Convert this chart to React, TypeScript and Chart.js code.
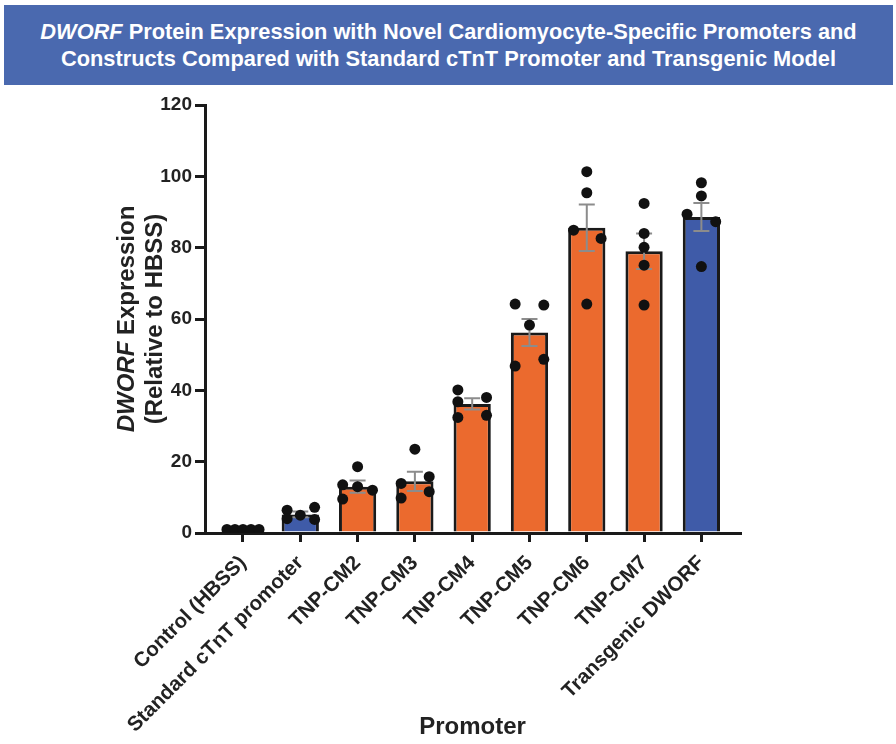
import React, { useEffect, useRef } from "react";
import { Chart, registerables } from "chart.js";

Chart.register(...registerables);

const categories = [
  "Control (HBSS)",
  "Standard cTnT promoter",
  "TNP-CM2",
  "TNP-CM3",
  "TNP-CM4",
  "TNP-CM5",
  "TNP-CM6",
  "TNP-CM7",
  "Transgenic DWORF",
];

const means = [1.0, 5.2, 13.0, 14.5, 36.2, 56.2, 85.6, 79.0, 88.6];
const sems = [0.05, 0.8, 1.7, 2.7, 1.6, 3.8, 6.5, 5.0, 3.9];

const pointValues = [
  [1.0, 1.0, 1.0, 1.0, 1.0],
  [6.4, 4.0, 5.0, 7.2, 3.8],
  [13.5, 9.5, 18.6, 13.0, 12.0],
  [13.9, 9.8, 23.5, 15.8, 11.6],
  [40.1, 36.8, 32.4, 38.0, 33.0],
  [64.2, 46.8, 58.3, 63.9, 48.7],
  [101.3, 95.4, 84.9, 82.6, 64.2],
  [92.4, 84.0, 80.1, 75.1, 63.9],
  [98.2, 94.5, 89.4, 87.3, 74.7],
];

// horizontal jitter of each dot within its bar (category units)
const pointJitter = [
  [-0.28, -0.14, 0, 0.14, 0.28],
  [-0.23, -0.23, 0, 0.25, 0.25],
  [-0.26, -0.26, 0, 0, 0.26],
  [-0.24, -0.24, 0, 0.25, 0.25],
  [-0.25, -0.25, -0.25, 0.25, 0.25],
  [-0.25, -0.25, 0, 0.25, 0.25],
  [0, 0, -0.23, 0.25, 0],
  [0, 0, 0, 0, 0],
  [0, 0, -0.25, 0.25, 0],
];

const barColors = [
  "#ffffff",
  "#3F5BA8",
  "#EB6A2E",
  "#EB6A2E",
  "#EB6A2E",
  "#EB6A2E",
  "#EB6A2E",
  "#EB6A2E",
  "#3F5BA8",
];

const yTicks = [0, 20, 40, 60, 80, 100, 120];

const FONT = '"Liberation Sans", Arial, Helvetica, sans-serif';

const errorBarPlugin = {
  id: "errorBars",
  afterDatasetDraw(chart: any, args: any) {
    if (args.index !== 0) return;
    const ctx = chart.ctx;
    const xs = chart.scales.x;
    const ys = chart.scales.y;
    ctx.save();
    ctx.strokeStyle = "#8c8c8c";
    ctx.lineWidth = 2;
    means.forEach((m, i) => {
      const x = xs.getPixelForValue(i);
      const yt = ys.getPixelForValue(m + sems[i]);
      const yb = ys.getPixelForValue(m - sems[i]);
      ctx.beginPath();
      ctx.moveTo(x, yt);
      ctx.lineTo(x, yb);
      ctx.moveTo(x - 8, yt);
      ctx.lineTo(x + 8, yt);
      ctx.moveTo(x - 8, yb);
      ctx.lineTo(x + 8, yb);
      ctx.stroke();
    });
    ctx.restore();
  },
};

const yTitlePlugin = {
  id: "yTitle",
  afterDraw(chart: any) {
    const ctx = chart.ctx;
    const ca = chart.chartArea;
    const cy = (ca.top + ca.bottom) / 2;
    const cx = 141;
    ctx.save();
    ctx.translate(cx, cy);
    ctx.rotate(-Math.PI / 2);
    ctx.fillStyle = "#222";
    ctx.textBaseline = "middle";
    ctx.textAlign = "left";
    const f1 = `italic bold 24px ${FONT}`;
    const f2 = `bold 24px ${FONT}`;
    ctx.font = f1;
    const w1 = ctx.measureText("DWORF").width;
    ctx.font = f2;
    const w2 = ctx.measureText(" Expression").width;
    const x0 = -(w1 + w2) / 2;
    ctx.font = f1;
    ctx.fillText("DWORF", x0, -14);
    ctx.font = f2;
    ctx.fillText(" Expression", x0 + w1, -14);
    ctx.textAlign = "center";
    ctx.fillText("(Relative to HBSS)", 0, 14);
    ctx.restore();
  },
};

export default function App() {
  const ref = useRef<HTMLCanvasElement | null>(null);

  useEffect(() => {
    document.body.style.margin = "0";
    const canvas = ref.current;
    if (!canvas) return;

    const barData = means.map((m, i) => ({ x: i, y: m }));
    const dotData: { x: number; y: number }[] = [];
    pointValues.forEach((vals, i) =>
      vals.forEach((v, j) => dotData.push({ x: i + pointJitter[i][j], y: v }))
    );

    const chart = new Chart(canvas, {
      type: "bar",
      data: {
        datasets: [
          {
            type: "bar",
            data: barData as any,
            backgroundColor: barColors,
            borderColor: "#1a1a1a",
            borderWidth: 3,
            barPercentage: 0.65,
            categoryPercentage: 1,
            order: 2,
          } as any,
          {
            type: "scatter",
            data: dotData as any,
            backgroundColor: "#111",
            borderWidth: 0,
            pointRadius: 5.5,
            order: 1,
          } as any,
        ],
      },
      options: {
        animation: false,
        responsive: false,
        devicePixelRatio: 1,
        layout: { padding: { top: 105, right: 156, bottom: 0, left: 0 } },
        plugins: {
          legend: { display: false },
          tooltip: { enabled: false },
        },
        scales: {
          x: {
            type: "linear",
            min: -0.663,
            max: 8.674,
            offset: false,
            afterFit: (scale: any) => {
              scale.height = 211;
            },
            afterBuildTicks: (scale: any) => {
              scale.ticks = categories.map((_, i) => ({ value: i }));
            },
            grid: {
              display: true,
              offset: false,
              drawOnChartArea: false,
              drawTicks: true,
              tickLength: 9,
              color: "#1a1a1a",
              lineWidth: 3,
            },
            border: { display: true, color: "#1a1a1a", width: 3 },
            ticks: {
              autoSkip: false,
              minRotation: 45,
              maxRotation: 45,
              padding: 9,
              color: "#222",
              font: { family: FONT, size: 20.5, weight: "bold" },
              callback: (v: any) => categories[v as number],
            },
            title: {
              display: true,
              text: "Promoter",
              color: "#222",
              font: { family: FONT, size: 24, weight: "bold" },
              padding: { top: 0, bottom: 2 },
            },
          },
          y: {
            min: 0,
            max: 120,
            afterFit: (scale: any) => {
              scale.width = 205;
            },
            afterBuildTicks: (scale: any) => {
              scale.ticks = yTicks.map((v) => ({ value: v }));
            },
            grid: {
              display: true,
              drawOnChartArea: false,
              drawTicks: true,
              tickLength: 10,
              color: "#1a1a1a",
              lineWidth: 3,
            },
            border: { display: true, color: "#1a1a1a", width: 3 },
            ticks: {
              padding: 3,
              color: "#222",
              font: { family: FONT, size: 19, weight: "bold" },
            },
          },
        },
      },
      plugins: [errorBarPlugin, yTitlePlugin],
    } as any);

    return () => chart.destroy();
  }, []);

  return (
    <div style={{ position: "relative", width: 896, height: 744, background: "#fff" }}>
      <canvas
        ref={ref}
        width={896}
        height={744}
        style={{ position: "absolute", left: 0, top: 0, width: 896, height: 744 }}
      />
      <div
        style={{
          position: "absolute",
          left: 4,
          top: 5,
          width: 889,
          height: 80,
          background: "#4A69AF",
          color: "#fff",
          display: "flex",
          flexDirection: "column",
          justifyContent: "center",
          alignItems: "center",
          fontFamily: FONT,
          fontWeight: "bold",
          fontSize: 21.8,
          lineHeight: "27px",
          textAlign: "center",
        }}
      >
        <div>
          <i>DWORF</i> Protein Expression with Novel Cardiomyocyte-Specific Promoters and
        </div>
        <div>Constructs Compared with Standard cTnT Promoter and Transgenic Model</div>
      </div>
    </div>
  );
}
